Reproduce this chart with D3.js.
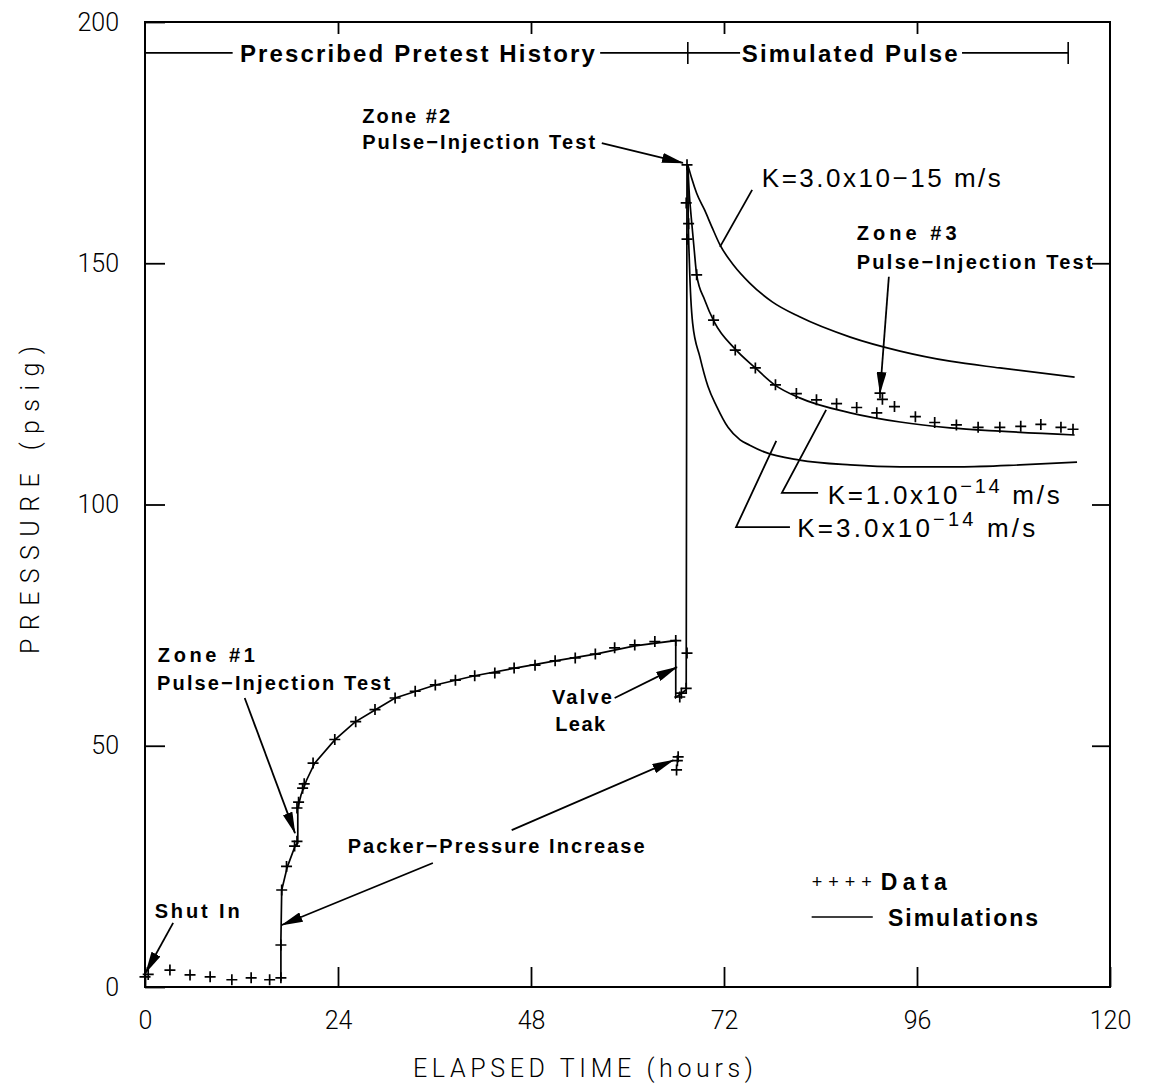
<!DOCTYPE html>
<html>
<meta charset="utf-8">
<style>
  body { margin: 0; background: #fff; }
  .ann { font-family: "Liberation Sans", Arial, sans-serif; font-weight: bold; fill: #000; }
  .thin { font-family: Roboto, "Open Sans", "DejaVu Sans", sans-serif; font-weight: 300; fill: #000; }
</style>
<script src="https://d3js.org/d3.v7.min.js"></script>
<body>
<script>
  var svgWidth = 1154, svgHeight = 1091;

  var xTicks = [0, 24, 48, 72, 96, 120];
  var yTicks = [0, 50, 100, 150, 200];

  // measured points, [hours, psig]
  var pretestData = [
    [0.0, 2.1], [0.4, 2.6], [3.1, 3.5], [5.6, 2.5], [8.1, 2.1], [10.8, 1.5], [13.2, 1.9], [15.5, 1.5], [16.9, 1.9],
    [16.9, 8.7], [17.0, 20.1], [17.6, 25.0], [18.6, 29.2], [18.9, 30.2], [18.9, 37.1], [19.1, 38.3], [19.6, 41.2],
    [19.8, 42.1], [20.9, 46.4], [23.6, 51.3], [26.2, 55.0], [28.6, 57.5], [31.1, 59.9], [33.6, 61.3], [36.1, 62.6],
    [38.6, 63.6], [41.0, 64.5], [43.5, 65.1], [45.9, 66.1], [48.5, 66.7], [51.0, 67.6], [53.5, 68.2], [56.0, 69.0],
    [58.4, 70.3], [60.9, 70.9], [63.4, 71.6], [66.0, 71.8]
  ];
  var valveLeakData = [[66.5, 60.1], [66.7, 60.9], [67.3, 61.9], [67.4, 69.2]];
  var packerData = [[66.3, 47.7], [66.2, 46.9], [66.1, 45.0]];
  var pulseData = [
    [67.4, 170.4], [67.3, 162.5], [67.6, 158.2], [67.4, 155.0], [68.6, 147.6], [70.7, 138.2], [73.4, 132.0],
    [75.9, 128.3], [78.4, 124.8], [81.0, 123.0], [83.5, 121.7], [86.0, 120.9], [88.5, 120.1], [91.0, 119.0],
    [91.4, 123.1], [91.7, 121.8], [93.2, 120.3], [95.8, 118.2], [98.2, 117.0], [100.9, 116.5], [103.6, 116.0],
    [106.3, 116.0], [108.9, 116.2], [111.4, 116.6], [113.9, 116.0], [115.4, 115.6]
  ];

  // simulated curves, [hours, psig]
  var historySim = [
    [16.9, 1.2], [16.9, 9.7], [17.0, 20.1], [17.7, 24.9], [18.7, 29.4], [19.0, 29.8], [19.0, 37.1], [19.4, 39.8],
    [20.1, 42.9], [21.1, 46.4], [23.6, 51.2], [26.1, 54.9], [28.6, 57.4], [31.1, 59.9], [36.1, 62.6], [41.0, 64.5],
    [46.0, 66.1], [51.0, 67.6], [56.0, 69.0], [60.9, 70.7], [66.0, 71.8], [66.0, 60.0], [67.3, 61.6], [67.4, 170.4]
  ];
  var simK3e15 = [
    [67.5, 170.4], [68.0, 167.5], [68.6, 164.5], [69.6, 161.0], [70.5, 157.5], [71.5, 153.8], [73.2, 149.6],
    [75.2, 145.9], [78.0, 142.0], [81.4, 138.9], [87.7, 134.7], [93.9, 131.8], [100.1, 129.7], [106.3, 128.3], [115.6, 126.4]
  ];
  var simK1e14 = [
    [67.5, 170.4], [67.7, 164.0], [67.9, 160.0], [68.3, 152.7], [68.6, 147.6], [69.6, 142.4], [70.8, 137.8],
    [73.4, 132.2], [75.9, 128.3], [78.3, 124.8], [81.4, 122.1], [87.7, 119.0], [93.9, 117.1], [100.1, 115.9],
    [106.3, 115.2], [115.6, 114.4]
  ];
  var simK3e14 = [
    [67.5, 170.4], [67.55, 160.0], [67.7, 150.0], [68.1, 137.6], [69.0, 130.6], [70.0, 124.5], [71.1, 120.3],
    [72.5, 116.0], [74.0, 113.4], [75.2, 112.3], [77.0, 110.9], [81.4, 109.2], [87.7, 108.2], [93.9, 107.8],
    [101.3, 107.8], [108.8, 108.2], [115.9, 108.8]
  ];

  var svg = d3.select("body").append("svg")
    .attr("width", svgWidth)
    .attr("height", svgHeight);

  var x = d3.scaleLinear().domain([0, 120]).range([145, 1110]);
  var y = d3.scaleLinear().domain([0, 200]).range([987, 22]);

  var defs = svg.append("defs");
  defs.append("marker")
    .attr("id", "head")
    .attr("viewBox", "0 0 22 10")
    .attr("refX", 21).attr("refY", 5)
    .attr("markerWidth", 22).attr("markerHeight", 10)
    .attr("markerUnits", "userSpaceOnUse")
    .attr("orient", "auto")
    .append("path").attr("d", "M0,0L22,5L0,10z").attr("fill", "#000");

  // axes
  function styleAxis(g) {
    g.select(".domain").remove();
    g.selectAll(".tick line").attr("stroke", "#000").attr("stroke-width", 1.8);
    g.selectAll(".tick text").attr("class", "thin").style("font-size", "25px").attr("fill", "#000");
  }
  svg.append("g").attr("transform", "translate(0," + y(0) + ")")
    .call(d3.axisBottom(x).tickValues(xTicks).tickSize(-20).tickPadding(24).tickFormat(d3.format("d")))
    .call(styleAxis);
  svg.append("g").attr("transform", "translate(" + x(0) + ",0)")
    .call(d3.axisLeft(y).tickValues(yTicks).tickSize(-20).tickPadding(26).tickFormat(d3.format("d")))
    .call(styleAxis);
  svg.append("g").attr("transform", "translate(0," + y(200) + ")")
    .call(d3.axisTop(x).tickValues(xTicks.slice(1, -1)).tickSize(-12).tickFormat(""))
    .call(styleAxis);
  svg.append("g").attr("transform", "translate(" + x(120) + ",0)")
    .call(d3.axisRight(y).tickValues(yTicks.slice(1, -1)).tickSize(-18).tickFormat(""))
    .call(styleAxis);

  svg.append("rect")
    .attr("x", x(0)).attr("y", y(200))
    .attr("width", x(120) - x(0)).attr("height", y(0) - y(200))
    .attr("fill", "none").attr("stroke", "#000").attr("stroke-width", 2);

  svg.append("text").attr("class", "thin")
    .attr("x", 583).attr("y", 1077)
    .attr("text-anchor", "middle")
    .attr("textLength", 340).attr("lengthAdjust", "spacing")
    .style("font-size", "25px")
    .text("ELAPSED TIME (hours)");
  svg.append("text").attr("class", "thin")
    .attr("transform", "translate(39,500) rotate(-90)")
    .attr("text-anchor", "middle")
    .attr("textLength", 308).attr("lengthAdjust", "spacing")
    .style("font-size", "25px")
    .text("PRESSURE (psig)");

  // curves
  var line = d3.line().x(function(d) { return x(d[0]); }).y(function(d) { return y(d[1]); });
  var smooth = d3.line().curve(d3.curveMonotoneX).x(function(d) { return x(d[0]); }).y(function(d) { return y(d[1]); });

  svg.append("path").attr("d", line(historySim))
    .attr("fill", "none").attr("stroke", "#000").attr("stroke-width", 1.7);
  [simK3e15, simK1e14, simK3e14].forEach(function(s) {
    svg.append("path").attr("d", smooth(s))
      .attr("fill", "none").attr("stroke", "#000").attr("stroke-width", 1.7);
  });

  // crosses
  var allData = pretestData.concat(valveLeakData, packerData, pulseData);
  svg.append("g").selectAll("path")
    .data(allData)
    .enter()
    .append("path")
    .attr("transform", function(d) { return "translate(" + x(d[0]) + "," + y(d[1]) + ")"; })
    .attr("d", "M-5.5,0H5.5M0,-5.5V5.5")
    .attr("stroke", "#000").attr("stroke-width", 1.7);

  // header bracket
  var hy = y(193.6);
  var bracket = [[0, 10.9], [56.6, 67.5], [67.5, 74.0], [101.6, 114.8]];
  bracket.forEach(function(b) {
    svg.append("line").attr("x1", x(b[0])).attr("x2", x(b[1])).attr("y1", hy).attr("y2", hy)
      .attr("stroke", "#000").attr("stroke-width", 1.6);
  });
  [67.5, 114.8].forEach(function(h) {
    svg.append("line").attr("x1", x(h)).attr("x2", x(h)).attr("y1", hy - 11).attr("y2", hy + 11)
      .attr("stroke", "#000").attr("stroke-width", 1.6);
  });

  function label(h, p, str, size, len) {
    var t = svg.append("text").attr("class", "ann")
      .attr("x", x(h)).attr("y", y(p)).attr("dy", "0.36em")
      .style("font-size", size + "px")
      .text(str);
    if (len) t.attr("textLength", len).attr("lengthAdjust", "spacing");
    return t;
  }
  label(11.8, 193.6, "Prescribed Pretest History", 24, 355);
  label(74.2, 193.6, "Simulated Pulse", 24, 216);

  label(27.0, 180.5, "Zone #2", 20, 88);
  label(27.0, 175.1, "Pulse\u2212Injection Test", 20, 233);
  label(88.5, 156.3, "Zone #3", 20, 100);
  label(88.5, 150.3, "Pulse\u2212Injection Test", 20, 236);
  label(1.6, 68.8, "Zone #1", 20, 97);
  label(1.5, 63.0, "Pulse\u2212Injection Test", 20, 233);
  label(1.2, 15.8, "Shut In", 20, 85);
  label(25.2, 29.2, "Packer\u2212Pressure Increase", 20, 297);
  label(50.6, 60.1, "Valve", 20, 60);
  label(51.0, 54.5, "Leak", 20, 50);

  var k15 = label(76.7, 167.7, "", 26, 239).style("font-weight", "normal");
  k15.text("K=3.0x10\u221215 m/s");

  function supLabel(h, p, base, exp, len) {
    var t = svg.append("text").attr("class", "ann")
      .attr("x", x(h)).attr("y", y(p)).attr("dy", "0.36em")
      .style("font-size", "26px").style("font-weight", "normal")
      .attr("textLength", len).attr("lengthAdjust", "spacing");
    t.append("tspan").text(base);
    t.append("tspan").attr("dy", -11).style("font-size", "20px").text(exp);
    t.append("tspan").attr("dy", 11).text("  m/s");
    return t;
  }
  supLabel(84.9, 102.0, "K=1.0x10", "\u221214", 232);
  supLabel(81.1, 95.3, "K=3.0x10", "\u221214", 238);

  // arrows and leaders
  function pts(list) { return list.map(function(d) { return [x(d[0]), y(d[1])]; }); }
  var arrows = [
    [[56.8, 174.9], [66.9, 170.8]],
    [[92.5, 147.2], [91.4, 123.1]],
    [[12.4, 59.9], [18.65, 31.9]],
    [[3.5, 13.3], [0.1, 3.0]],
    [[35.8, 25.7], [17.0, 12.85]],
    [[45.6, 32.5], [65.7, 47.0]],
    [[58.4, 59.9], [66.15, 66.3]]
  ];
  arrows.forEach(function(a) {
    svg.append("path").attr("d", d3.line()(pts(a)))
      .attr("fill", "none").attr("stroke", "#000").attr("stroke-width", 1.8)
      .attr("marker-end", "url(#head)");
  });
  var leaders = [
    [[75.5, 165.2], [71.5, 153.4]],
    [[84.7, 119.6], [79.2, 102.4], [83.7, 102.4]],
    [[78.5, 113.2], [73.5, 95.3], [80.2, 95.3]]
  ];
  leaders.forEach(function(a) {
    svg.append("path").attr("d", d3.line()(pts(a)))
      .attr("fill", "none").attr("stroke", "#000").attr("stroke-width", 1.8);
  });

  // legend
  label(82.9, 21.8, "++++", 18, 60).style("font-weight", "normal");
  label(91.5, 21.8, "Data", 23, 66);
  svg.append("line").attr("x1", x(82.9)).attr("x2", x(90.5)).attr("y1", y(14.5)).attr("y2", y(14.5))
    .attr("stroke", "#000").attr("stroke-width", 1.6);
  label(92.4, 14.3, "Simulations", 23, 150);
</script>
</body>
</html>
